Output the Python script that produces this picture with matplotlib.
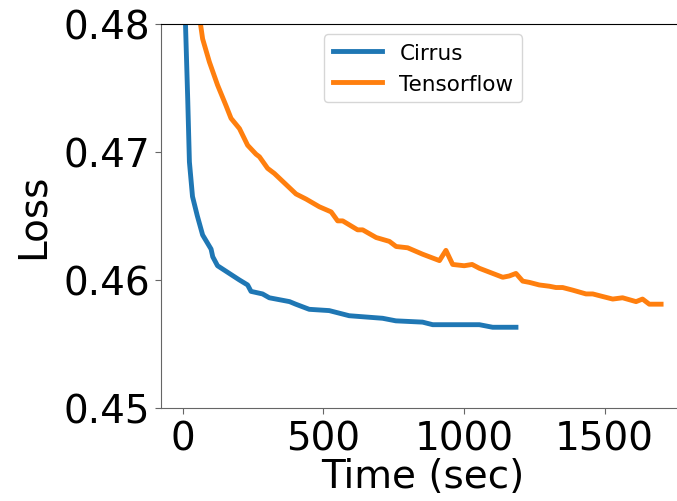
import matplotlib
matplotlib.use("Agg")
import matplotlib.pyplot as plt

cirrus_t = [8, 10, 18, 24, 35, 52, 71, 101, 107, 124, 166, 201, 231, 243, 284, 308,
            380, 402, 450, 521, 592, 711, 758, 853, 889, 1055, 1102, 1185]
cirrus_loss = [0.4900, 0.4800, 0.4741, 0.4692, 0.4665, 0.4650, 0.4635, 0.4624, 0.4618,
               0.4611, 0.4605, 0.4600, 0.4596, 0.4591, 0.4589, 0.4586, 0.4583, 0.4581,
               0.4577, 0.4576, 0.4572, 0.4570, 0.4568, 0.4567, 0.4565, 0.4565, 0.4563,
               0.4563]

tf_t = [50, 71, 95, 124, 154, 172, 202, 231, 261, 273, 302, 326, 403, 439, 486, 528,
        551, 569, 622, 640, 688, 735, 759, 800, 853, 913, 936, 960, 1001, 1029, 1055,
        1138, 1161, 1185, 1209, 1233, 1268, 1304, 1327, 1351, 1386, 1434, 1458, 1493,
        1529, 1564, 1612, 1635, 1659, 1701]
tf_loss = [0.4820, 0.4788, 0.4770, 0.4752, 0.4736, 0.4726, 0.4718, 0.4705, 0.4698,
           0.4696, 0.4687, 0.4683, 0.4667, 0.4663, 0.4657, 0.4653, 0.4646, 0.4646,
           0.4639, 0.4639, 0.4633, 0.4630, 0.4626, 0.4625, 0.4620, 0.4615, 0.4623,
           0.4612, 0.4611, 0.4612, 0.4609, 0.4602, 0.4603, 0.4605, 0.4599, 0.4598,
           0.4596, 0.4595, 0.4594, 0.4594, 0.4592, 0.4589, 0.4589, 0.4587, 0.4585,
           0.4586, 0.4583, 0.4585, 0.4581, 0.4581]

x_ticks = [0, 500, 1000, 1500]
y_ticks = [0.45, 0.46, 0.47, 0.48]

fig = plt.figure(figsize=(6.77, 5.02), dpi=100)
ax = fig.add_axes([161 / 677, 93 / 502, 524 / 677, 384.5 / 502])

ax.plot(cirrus_t, cirrus_loss, color="#1f77b4", lw=3.5, label="Cirrus")
ax.plot(tf_t, tf_loss, color="#ff7f0e", lw=3.5, label="Tensorflow")

ax.set_xlim(-77, 1786)
ax.set_ylim(0.45, 0.48)
ax.set_xticks(x_ticks)
ax.set_yticks(y_ticks)
ax.set_yticklabels([f"{v:.2f}" for v in y_ticks])
ax.tick_params(labelsize=28, color="#666666", length=4.5)
for s in ["left", "bottom"]:
    ax.spines[s].set_color("#666666")
ax.spines["top"].set_color("black")

ax.set_xlabel("Time (sec)", fontsize=28, labelpad=0)
ax.set_ylabel("Loss", fontsize=28, labelpad=8)
ax.legend(loc="upper center", fontsize=15.5, handlelength=2.3)

fig.savefig("out.png", dpi=100)
